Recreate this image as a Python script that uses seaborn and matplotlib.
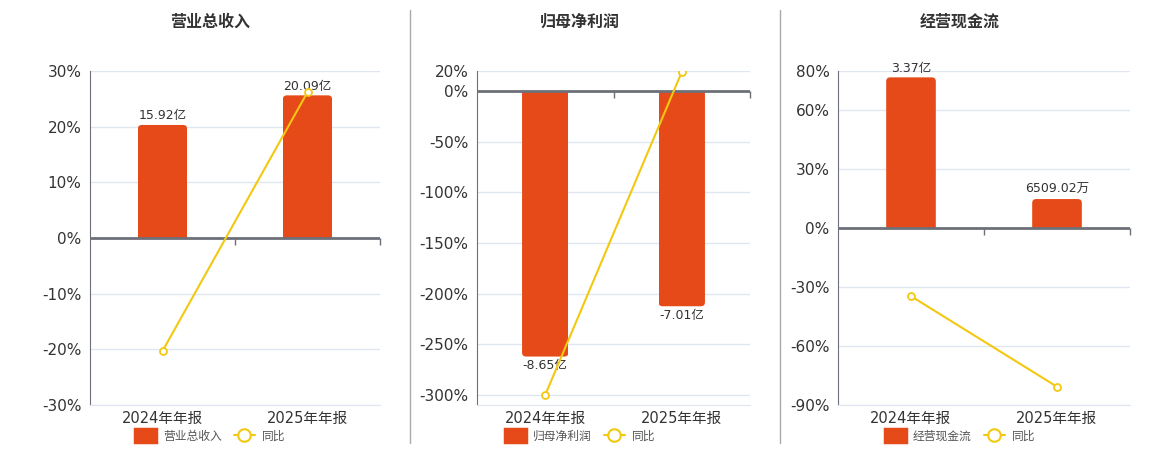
import matplotlib.pyplot as plt
import matplotlib
from matplotlib.lines import Line2D
from matplotlib.patches import Patch, FancyBboxPatch, Rectangle
import seaborn as sns
import pandas as pd

sns.set_style("white")
plt.rcParams['font.family'] = ['DejaVu Sans', 'Noto Sans CJK SC']
plt.rcParams['axes.unicode_minus'] = False

cats = ['2024年年报', '2025年年报']
titles = ['营业总收入', '归母净利润', '经营现金流']

# bars in 亿, yoy in %
revenue = [15.92, 20.09]
revenue_yoy = [-20.3, 26.2]
revenue_labels = ['15.92亿', '20.09亿']

profit = [-8.65, -7.01]
profit_yoy = [-300.0, 19.0]
profit_labels = ['-8.65亿', '-7.01亿']

cashflow = [3.37, 0.6509]
cashflow_yoy = [-34.6, -80.7]
cashflow_labels = ['3.37亿', '6509.02万']

pct_ticks = [[-30, -20, -10, 0, 10, 20, 30],
             [-300, -250, -200, -150, -100, -50, 0, 20],
             [-90, -60, -30, 0, 30, 60, 80]]
pct_lims = [(-30, 30), (-310, 20), (-90, 80)]
# 亿 per percent, so that both zeros line up
bar_scale = [0.784, 0.0330, 0.0439]

bar_color = '#E64A19'
line_color = '#F2C811'
grid_color = '#E0E6F1'
axis_color = '#6E7079'
text_color = '#333333'

fig = plt.figure(figsize=(11.6, 4.5), dpi=100)
ax_rects = [[90, 290], [477, 273], [838, 292]]
title_x = [210, 580, 960]

panels = [(revenue, revenue_yoy, revenue_labels),
          (profit, profit_yoy, profit_labels),
          (cashflow, cashflow_yoy, cashflow_labels)]


def round_bars(ax, radius_px=4):
    # swap plain bars for ones with rounded outer corners only
    inv = ax.transData.inverted()
    x0, y0 = inv.transform((0, 0))
    x1, y1 = inv.transform((1, 1))
    xpp, ypp = abs(x1 - x0), abs(y1 - y0)
    ry = 2 * radius_px * ypp
    for bar in list(ax.patches):
        x, y = bar.get_x(), bar.get_y()
        w, h = bar.get_width(), bar.get_height()
        if h >= 0:
            y_lo, y_hi = y - ry, y + h
        else:
            y_lo, y_hi = y + h, y + ry
        rounded = FancyBboxPatch((x, y_lo), w, y_hi - y_lo,
                                 boxstyle=f"round,pad=0,rounding_size={radius_px * xpp}",
                                 mutation_aspect=ypp / xpp,
                                 facecolor=bar.get_facecolor(), edgecolor='none',
                                 zorder=bar.get_zorder())
        ax.add_patch(rounded)
        clip = Rectangle((x, y), w, h * 1.05, transform=ax.transData)
        rounded.set_clip_path(clip)
        bar.set_visible(False)


for i, (vals, yoy, labels) in enumerate(panels):
    left, width = ax_rects[i]
    ax = fig.add_axes([left / 1160, 45 / 450, width / 1160, 334 / 450])
    ax_bar = ax.twinx()
    ax_line = ax.twinx()

    df = pd.DataFrame({'cat': cats, 'val': vals, 'yoy': yoy})
    sns.barplot(data=df, x='cat', y='val', ax=ax_bar, color=bar_color,
                width=0.34, saturation=1, edgecolor='none')
    ax_bar.bar_label(ax_bar.containers[0], labels=labels, padding=2,
                     fontsize=9, color=text_color)
    lo, hi = pct_lims[i]
    ax_bar.set_ylim(lo * bar_scale[i], hi * bar_scale[i])
    ax_bar.set_xlim(-0.5, 1.5)
    round_bars(ax_bar)

    sns.lineplot(data=df, x='cat', y='yoy', ax=ax_line, color=line_color,
                 lw=1.5, marker='o', markersize=5, markerfacecolor='white',
                 markeredgecolor=line_color, markeredgewidth=1.3, sort=False)
    ax_line.set_ylim(lo, hi)
    ax_line.axhline(0, color=axis_color, lw=2, zorder=1)
    ax_line.plot([0.5, 1.5], [0, 0], ls='none', marker=3, ms=5, mew=1,
                 color=axis_color, clip_on=False)

    for a in (ax_bar, ax_line):
        a.yaxis.set_visible(False)
        a.set_xlabel('')
        a.set_ylabel('')
        for s in a.spines.values():
            s.set_visible(False)

    ax.set_ylim(lo, hi)
    ax.set_xlim(-0.5, 1.5)
    ax.set_yticks(pct_ticks[i])
    ax.set_yticklabels([f'{t}%' for t in pct_ticks[i]])
    ax.set_xticks([0, 1])
    ax.set_xticklabels(cats)
    ax.grid(axis='y', color=grid_color, lw=1)
    ax.set_axisbelow(True)
    ax.tick_params(axis='y', labelsize=11, colors=text_color, length=0, pad=6)
    ax.tick_params(axis='x', labelsize=10.5, colors=text_color, length=0, pad=4)
    for s in ['top', 'right']:
        ax.spines[s].set_visible(False)
    ax.spines['left'].set_color(axis_color)
    ax.spines['bottom'].set_color(grid_color)

    fig.text(title_x[i] / 1160, 1 - 22 / 450, titles[i], ha='center', va='center',
             fontsize=11.5, fontweight='bold', color=text_color)

    handles = [Patch(facecolor=bar_color, edgecolor=bar_color, lw=2.5,
                     joinstyle='round'),
               Line2D([], [], color=line_color, lw=1.5, marker='o', ms=9,
                      markerfacecolor='white', markeredgewidth=1.5)]
    ax.legend(handles, [titles[i], '同比'], loc='center', ncol=2, frameon=False,
              bbox_to_anchor=(title_x[i] / 1160, 1 - 436 / 450),
              bbox_transform=fig.transFigure, fontsize=8.5, handlelength=1.8,
              handleheight=1.2, handletextpad=0.6, columnspacing=1.0,
              labelcolor='#555555')

for x in [410, 780]:
    fig.add_artist(Line2D([x / 1160, x / 1160], [1 - 443 / 450, 1 - 10 / 450],
                          transform=fig.transFigure, color='#AAAAAA', lw=1))

fig.savefig('out.png', dpi=100)
